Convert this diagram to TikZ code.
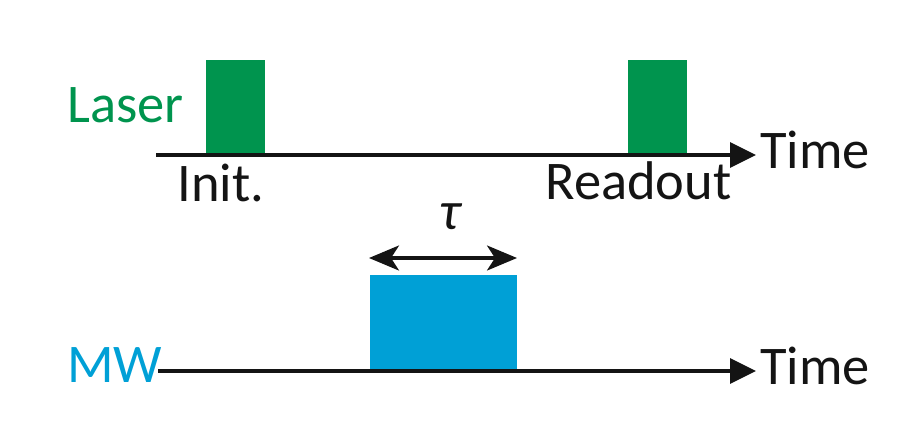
\documentclass[tikz,border=0pt]{standalone}
\usepackage{fontspec}
\setmainfont{Carlito}
\usetikzlibrary{arrows.meta}
\definecolor{lasergreen}{RGB}{0,148,78}
\definecolor{mwblue}{RGB}{0,160,214}
\definecolor{inkblack}{RGB}{20,20,20}
\begin{document}
\begin{tikzpicture}[x = .02cm, y = -.02cm,
    lbl/.style = {inner sep = 0, anchor = base west, font = \fontsize{31}{37}\selectfont},
    timeaxis/.style = {draw = inkblack, line width = 2pt, -{Triangle[length = .52cm, width = .5cm]}},
    pulse/.style = {fill = #1, draw = none}]
    \useasboundingbox (0,0) rectangle (910,440);
    % laser line
    \fill [pulse = lasergreen] (206,60) rectangle (265,155);
    \fill [pulse = lasergreen] (628,60) rectangle (687,155);
    \coordinate (lstart) at (156,155);
    \coordinate (lend) at (756,155);
    \draw [timeaxis] (lstart) -- (lend);
    \node [lbl, text = lasergreen] (laser) at (67,122) {Laser};
    \node [lbl, text = inkblack] (ltime) at (760,168) {Time};
    \node [lbl, text = inkblack] (init) at (177,201) {Init.};
    \node [lbl, text = inkblack] (readout) at (545,199) {Readout};
    % microwave line
    \fill [pulse = mwblue] (370,275) rectangle (517,370);
    \coordinate (mstart) at (158,371);
    \coordinate (mend) at (756,371);
    \draw [timeaxis] (mstart) -- (mend);
    \node [lbl, text = mwblue] (mw) at (67,382) {MW};
    \node [lbl, text = inkblack] (mtime) at (760,384) {Time};
    % pulse length
    \coordinate (tleft) at (369,258);
    \coordinate (tright) at (517,258);
    \draw [inkblack, line width = 1.8pt, {Stealth[length = .6cm, width = .5cm, inset = .16cm]}-{Stealth[length = .6cm, width = .5cm, inset = .16cm]}] (tleft) -- (tright);
    \node [lbl, anchor = base, text = inkblack] (tau) at (450,229) {\itshape τ};
\end{tikzpicture}
\end{document}
